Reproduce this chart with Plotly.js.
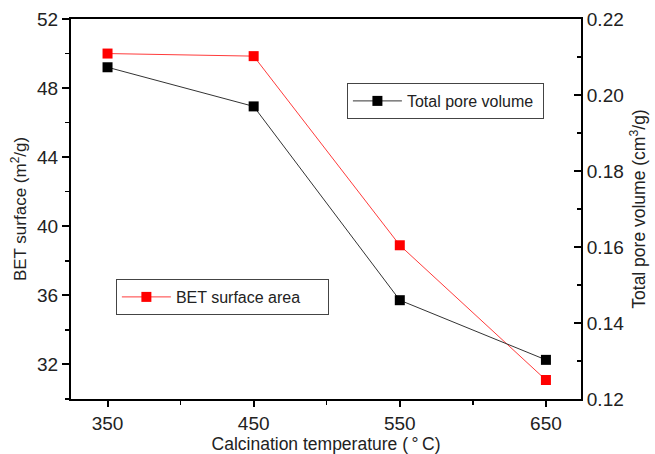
<!DOCTYPE html>
<html>
<head>
<meta charset="utf-8">
<script src="https://cdn.plot.ly/plotly-3.0.1.min.js"></script>
<style>html,body{margin:0;padding:0;background:#fff;}#chart{width:655px;height:454px;}</style>
</head>
<body>
<div id="chart"></div>
<script>
const temperatures = [350, 450, 550, 650];
const betSurface = [50.0, 49.85, 38.9, 31.1];
const poreVolume = [0.2073, 0.1970, 0.1460, 0.1303];
const xTicks = [350, 450, 550, 650];
const leftTicks = [32, 36, 40, 44, 48, 52];
const rightTicks = [0.12, 0.14, 0.16, 0.18, 0.20, 0.22];
const seriesNames = ['Total pore volume', 'BET surface area'];

const font = 'Liberation Sans, Arial, sans-serif';
const txt = '#222222';

const traces = [
  {
    x: temperatures, y: poreVolume, yaxis: 'y2', name: seriesNames[0] + '\u00a0',
    mode: 'lines+markers', legend: 'legend',
    line: {color: '#333333', width: 1},
    marker: {symbol: 'square', size: 10, color: '#000000'}
  },
  {
    x: temperatures, y: betSurface, yaxis: 'y', name: seriesNames[1] + '\u00a0\u00a0\u00a0\u00a0\u00a0',
    mode: 'lines+markers', legend: 'legend2',
    line: {color: '#ff3b3b', width: 1},
    marker: {symbol: 'square', size: 10, color: '#ff0000'}
  }
];

const layout = {
  width: 655, height: 454,
  margin: {l: 71, r: 74, t: 19, b: 55},
  paper_bgcolor: '#ffffff', plot_bgcolor: '#ffffff',
  font: {family: font, size: 16, color: txt},
  showlegend: true,
  xaxis: {
    range: [325, 674], tickvals: xTicks, ticktext: xTicks.map(String),
    ticks: 'outside', ticklen: 6, tickwidth: 2, tickcolor: '#000',
    minor: {dtick: 50, tick0: 350, ticks: 'outside', ticklen: 4, tickwidth: 1.5, tickcolor: '#000'},
    showline: true, linecolor: '#000', linewidth: 2, mirror: true,
    showgrid: false, zeroline: false,
    tickfont: {size: 19, family: font, color: txt},
    title: {text: 'Calcination temperature (\u2009°\u2009C)', font: {size: 17.5, family: font, color: txt}, standoff: 5}
  },
  yaxis: {
    range: [30, 52], tickvals: leftTicks, ticktext: leftTicks.map(String),
    ticks: 'outside', ticklen: 7, tickwidth: 2, tickcolor: '#000',
    minor: {dtick: 2, tick0: 30, ticks: 'outside', ticklen: 4, tickwidth: 1.5, tickcolor: '#000'},
    showline: true, linecolor: '#000', linewidth: 2,
    showgrid: false, zeroline: false,
    tickfont: {size: 19, family: font, color: txt},
    title: {text: 'BET surface (m<sup>2</sup>/g)', font: {size: 17, family: font, color: txt}, standoff: 6}
  },
  yaxis2: {
    range: [0.12, 0.22], tickvals: rightTicks, ticktext: rightTicks.map(v => v.toFixed(2)),
    overlaying: 'y', side: 'right',
    ticks: 'inside', ticklen: 7, tickwidth: 2, tickcolor: '#000',
    minor: {dtick: 0.01, tick0: 0.12, ticks: 'inside', ticklen: 4, tickwidth: 1.5, tickcolor: '#000'},
    showline: true, linecolor: '#000', linewidth: 2,
    showgrid: false, zeroline: false,
    tickfont: {size: 19, family: font, color: txt},
    title: {text: 'Total pore volume (cm<sup>3</sup>/g)', font: {size: 17.5, family: font, color: txt}, standoff: 10}
  },
  legend: {
    x: 0.541, y: 0.8316, xanchor: 'left', yanchor: 'top',
    bgcolor: '#ffffff', bordercolor: '#444', borderwidth: 1,
    font: {size: 16, family: font, color: txt}, itemwidth: 49
  },
  legend2: {
    x: 0.088, y: 0.3158, xanchor: 'left', yanchor: 'top',
    bgcolor: '#ffffff', bordercolor: '#444', borderwidth: 1,
    font: {size: 16, family: font, color: txt}, itemwidth: 49
  }
};

Plotly.newPlot('chart', traces, layout, {displayModeBar: false, staticPlot: true});
</script>
</body>
</html>
